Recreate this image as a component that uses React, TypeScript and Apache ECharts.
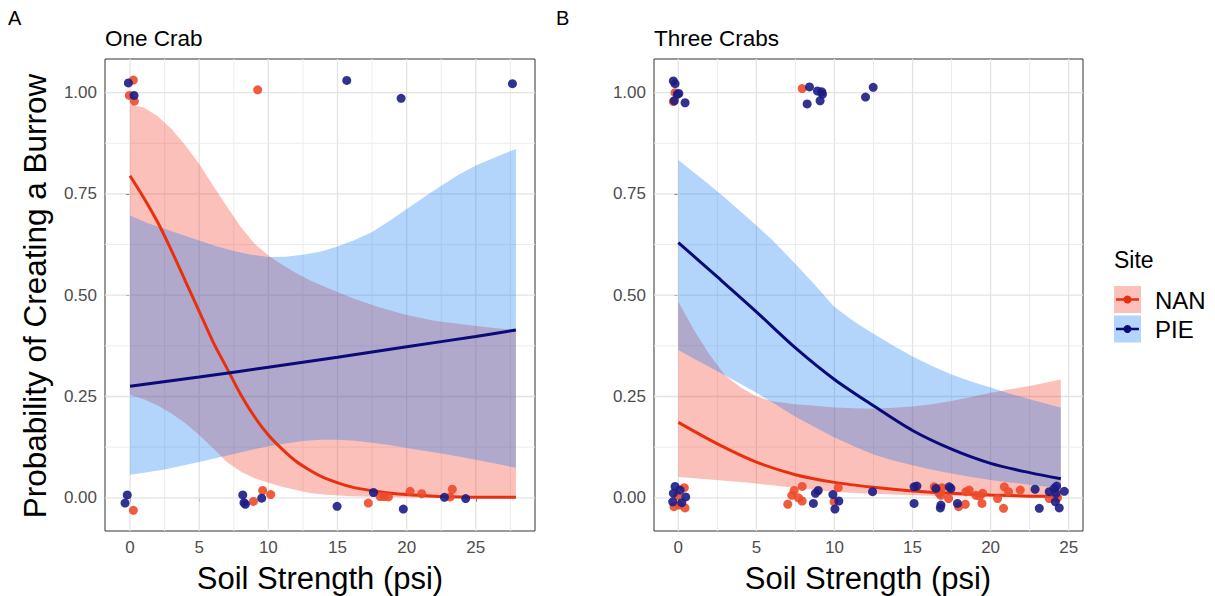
import React, { useEffect, useRef } from "react";
import * as echarts from "echarts";

const FONT = '"Liberation Sans", Arial, Helvetica, sans-serif';

// ---------- Panel A : One Crab ----------
const A_NAN_LINE_X = [0, 1, 2, 3, 4, 5, 6, 7, 8, 9, 10, 11, 12, 13, 14, 16, 18, 20, 22, 24, 26, 27.9];
const A_NAN_LINE_Y = [0.795, 0.74, 0.68, 0.61, 0.535, 0.46, 0.385, 0.32, 0.255, 0.2, 0.155, 0.12, 0.09, 0.068, 0.05, 0.027, 0.015, 0.008, 0.004, 0.002, 0.001, 0.001];
const A_NAN_RIB_X = [0, 1, 2, 3, 4, 5, 6, 7, 8, 9, 10, 11, 12, 13, 14, 16, 18, 20, 22, 24, 26, 27.9];
const A_NAN_RIB_LO = [0.254, 0.243, 0.228, 0.208, 0.184, 0.155, 0.122, 0.088, 0.065, 0.048, 0.037, 0.027, 0.019, 0.012, 0.008, 0.004, 0.002, 0.001, 0.0, 0.0, 0.0, 0.0];
const A_NAN_RIB_HI = [0.971, 0.963, 0.942, 0.91, 0.87, 0.824, 0.771, 0.719, 0.669, 0.627, 0.598, 0.575, 0.555, 0.537, 0.522, 0.494, 0.47, 0.451, 0.437, 0.428, 0.42, 0.414];

const A_PIE_LINE_X = [0, 5, 10, 15, 20, 25, 27.9];
const A_PIE_LINE_Y = [0.275, 0.298, 0.322, 0.347, 0.373, 0.398, 0.414];
const A_PIE_RIB_X = [0, 1.25, 2.5, 3.75, 5, 6.25, 7.5, 8.75, 10, 11.25, 12.5, 13.75, 15, 16.25, 17.5, 18.75, 20, 21.25, 22.5, 23.75, 25, 26.5, 27.9];
const A_PIE_RIB_LO = [0.057, 0.063, 0.07, 0.079, 0.088, 0.098, 0.108, 0.118, 0.127, 0.134, 0.14, 0.143, 0.143, 0.141, 0.136, 0.13, 0.123, 0.116, 0.109, 0.102, 0.094, 0.084, 0.074];
const A_PIE_RIB_HI = [0.697, 0.678, 0.664, 0.649, 0.635, 0.621, 0.609, 0.6, 0.594, 0.595, 0.6, 0.607, 0.62, 0.636, 0.656, 0.683, 0.713, 0.742, 0.77, 0.797, 0.82, 0.842, 0.861];

const A_NAN_PTS = [
  [0.24, 1.031], [-0.05, 0.993], [0.31, 0.979], [9.23, 1.007], [0.24, -0.031], [8.92, -0.009],
  [9.59, 0.018], [10.17, 0.008], [17.23, -0.013], [18.08, 0.003], [18.37, 0.003], [18.68, 0.002],
  [20.25, 0.016], [21.09, 0.01], [23.14, 0.002], [23.3, 0.021],
];
const A_PIE_PTS = [
  [-0.12, 1.024], [0.29, 0.993], [15.67, 1.03], [19.6, 0.986], [27.65, 1.022], [-0.2, 0.007],
  [-0.36, -0.013], [8.15, 0.007], [8.24, -0.012], [8.34, -0.016], [9.52, -0.001], [14.97, -0.021],
  [17.6, 0.013], [19.76, -0.028], [22.73, 0.001], [24.27, -0.002],
];

// ---------- Panel B : Three Crabs ----------
const B_NAN_LINE_X = [0, 2.5, 5, 7.5, 10, 12.5, 15, 17.5, 20, 22.5, 24.5];
const B_NAN_LINE_Y = [0.186, 0.133, 0.088, 0.057, 0.038, 0.026, 0.017, 0.011, 0.007, 0.004, 0.003];
const B_NAN_RIB_X = [0, 1, 2, 3, 4, 5, 6, 7.5, 8.75, 10, 11.25, 12.5, 13.75, 15, 16.25, 17.5, 18.75, 20, 21.25, 22.5, 23.5, 24.5];
const B_NAN_RIB_LO = [0.051, 0.048, 0.045, 0.042, 0.039, 0.035, 0.031, 0.024, 0.019, 0.015, 0.012, 0.01, 0.008, 0.006, 0.005, 0.004, 0.003, 0.002, 0.0015, 0.001, 0.001, 0.001];
const B_NAN_RIB_HI = [0.484, 0.414, 0.353, 0.302, 0.272, 0.25, 0.238, 0.231, 0.227, 0.223, 0.221, 0.22, 0.222, 0.225, 0.231, 0.239, 0.249, 0.259, 0.268, 0.276, 0.284, 0.292];

const B_PIE_LINE_X = [0, 2.5, 5, 7.5, 10, 12.5, 15, 17.5, 20, 22.5, 24.5];
const B_PIE_LINE_Y = [0.63, 0.545, 0.459, 0.37, 0.292, 0.227, 0.166, 0.12, 0.085, 0.062, 0.047];
const B_PIE_RIB_X = [0, 1, 2, 3, 4, 5, 6, 7.5, 8.75, 10, 11.25, 12.5, 13.75, 15, 16.25, 17.5, 18.75, 20, 21.25, 22.5, 23.5, 24.5];
const B_PIE_RIB_LO = [0.365, 0.343, 0.323, 0.302, 0.281, 0.259, 0.236, 0.2, 0.174, 0.149, 0.127, 0.107, 0.092, 0.08, 0.069, 0.06, 0.051, 0.044, 0.038, 0.032, 0.028, 0.024];
const B_PIE_RIB_HI = [0.834, 0.803, 0.772, 0.74, 0.706, 0.672, 0.637, 0.577, 0.525, 0.471, 0.435, 0.405, 0.376, 0.349, 0.325, 0.304, 0.287, 0.272, 0.257, 0.243, 0.233, 0.223];

const B_NAN_PTS = [
  [-0.21, 1.0], [-0.32, 0.978], [7.93, 1.01],
  [0.38, 0.025], [-0.06, 0.005], [-0.28, -0.022], [0.43, -0.025], [0.06, -0.018], [7.01, -0.016],
  [7.27, 0.006], [7.42, 0.018], [7.93, 0.028], [7.69, 0.0], [7.93, -0.008], [9.98, -0.01], [10.24, 0.025],
  [16.39, 0.027], [16.88, 0.025], [16.82, 0.006], [17.31, -0.002], [17.95, -0.022], [18.38, -0.016],
  [18.42, 0.015], [18.63, 0.019], [19.06, 0.006], [19.49, 0.011], [19.45, -0.014], [20.45, -0.002],
  [20.88, 0.027], [21.15, 0.015], [20.83, -0.026], [21.9, 0.019], [23.76, -0.002], [24.29, 0.0],
  [16.7, 0.011], [19.3, 0.004],
];
const B_PIE_PTS = [
  [-0.32, 1.029], [-0.21, 1.022], [-0.06, 0.996], [0.03, 0.998], [-0.26, 0.98], [0.43, 0.975],
  [8.4, 1.014], [8.25, 0.972], [8.91, 1.004], [9.19, 1.002], [9.23, 0.996], [9.08, 0.98],
  [11.99, 0.989], [12.48, 1.013],
  [-0.21, 0.028], [0.11, 0.019], [-0.32, 0.011], [0.47, 0.002], [-0.36, -0.01], [0.22, -0.012],
  [8.65, -0.014], [8.78, 0.011], [8.96, 0.018], [9.9, 0.008], [10.03, -0.028], [10.28, -0.008],
  [12.44, 0.015], [15.1, 0.027], [15.28, 0.029], [15.1, -0.014], [16.5, 0.023], [17.35, 0.027],
  [17.46, 0.023], [16.82, -0.018], [16.78, -0.025], [17.88, -0.014], [22.85, 0.021], [23.12, -0.026],
  [23.76, 0.015], [24.08, 0.023], [24.23, 0.029], [24.19, 0.011], [24.72, 0.016], [24.15, -0.01],
  [24.4, -0.025],
];

// ---------- axes ----------
const X_TICKS = [0, 5, 10, 15, 20, 25];
const Y_TICKS = [0, 0.25, 0.5, 0.75, 1];
const A_X_MAJOR = [0, 5, 10, 15, 20, 25];
const A_X_MINOR = [2.5, 7.5, 12.5, 17.5, 22.5, 27.5];
const B_X_MAJOR = [0, 5, 10, 15, 20, 25];
const B_X_MINOR = [2.5, 7.5, 12.5, 17.5, 22.5];
const Y_MAJOR = [0, 0.25, 0.5, 0.75, 1];
const Y_MINOR = [0.125, 0.375, 0.625, 0.875];

const A_XLIM = [-1.81, 29.28];
const B_XLIM = [-1.56, 25.92];
const YLIM = [-0.082, 1.083];

const NAN_LINE = "#e8300e";
const PIE_LINE = "#0a0a78";
const NAN_FILL = "#f52d1c";
const PIE_FILL = "#0273f5";
const NAN_PT = "#ee4a2a";
const PIE_PT = "#1c1c84";

function gridSeries(g: number, xMaj: number[], xMin: number[], xl: number[]) {
  const data: number[][] = [];
  xMaj.forEach((v) => data.push([v, 0, 0]));
  xMin.forEach((v) => data.push([v, 0, 1]));
  Y_MAJOR.forEach((v) => data.push([v, 1, 0]));
  Y_MINOR.forEach((v) => data.push([v, 1, 1]));
  return {
    type: "custom",
    xAxisIndex: g,
    yAxisIndex: g,
    silent: true,
    z: 1,
    data,
    renderItem: (params: any, api: any) => {
      const v = api.value(0);
      const horiz = api.value(1);
      const minor = api.value(2);
      let p1, p2;
      if (horiz) {
        p1 = api.coord([xl[0], v]);
        p2 = api.coord([xl[1], v]);
      } else {
        p1 = api.coord([v, YLIM[0]]);
        p2 = api.coord([v, YLIM[1]]);
      }
      return {
        type: "line",
        shape: { x1: p1[0], y1: p1[1], x2: p2[0], y2: p2[1] },
        style: { stroke: minor ? "#ececec" : "#e3e3e3", lineWidth: minor ? 1 : 1.3 },
      };
    },
  };
}

function ribbon(g: number, xs: number[], lo: number[], hi: number[], color: string) {
  return {
    type: "custom",
    xAxisIndex: g,
    yAxisIndex: g,
    silent: true,
    clip: true,
    z: 2,
    data: xs.map((x, i) => [x, lo[i], hi[i]]),
    renderItem: (params: any, api: any) => {
      if (params.dataIndex !== 0) return null;
      const pts: number[][] = [];
      for (let i = 0; i < xs.length; i++) pts.push(api.coord([xs[i], hi[i]]));
      for (let i = xs.length - 1; i >= 0; i--) pts.push(api.coord([xs[i], lo[i]]));
      return {
        type: "polygon",
        shape: { points: pts },
        style: { fill: color, opacity: 0.3 },
      };
    },
  };
}

function fitLine(g: number, xs: number[], ys: number[], color: string) {
  return {
    type: "line", xAxisIndex: g, yAxisIndex: g, silent: true, z: 4,
    symbol: "none", smooth: 0.3, lineStyle: { color, width: 3 },
    data: xs.map((x, i) => [x, ys[i]]),
  };
}

function points(g: number, pts: number[][], color: string, op: number) {
  return {
    type: "scatter", xAxisIndex: g, yAxisIndex: g, silent: true, z: 5,
    symbolSize: 9, itemStyle: { color, opacity: op },
    data: pts,
  };
}

function xAxis(g: number, lim: number[]) {
  return {
    type: "value", gridIndex: g, min: lim[0], max: lim[1],
    axisLine: { show: false },
    splitLine: { show: false },
    axisTick: { show: true, customValues: X_TICKS, length: 4, lineStyle: { color: "#333333", width: 1 } },
    axisLabel: { customValues: X_TICKS, fontSize: 17, color: "#4d4d4d", fontFamily: FONT, margin: 8 },
  };
}

function yAxis(g: number) {
  return {
    type: "value", gridIndex: g, min: YLIM[0], max: YLIM[1],
    axisLine: { show: false },
    splitLine: { show: false },
    axisTick: { show: true, customValues: Y_TICKS, length: 4, lineStyle: { color: "#333333", width: 1 } },
    axisLabel: {
      customValues: Y_TICKS, fontSize: 17, color: "#4d4d4d", fontFamily: FONT, margin: 8,
      formatter: (v: number) => v.toFixed(2),
    },
  };
}

function txt(text: string, x: number, y: number, size: number, align = "left", rotation = 0, color = "#000") {
  return {
    type: "text", x, y, rotation, silent: true,
    style: {
      text, fill: color, fontSize: size, fontFamily: FONT,
      textAlign: align, align, textVerticalAlign: "middle", verticalAlign: "middle",
    },
  };
}

export default function App() {
  const ref = useRef<HTMLDivElement>(null);
  useEffect(() => {
    if (!ref.current) return;
    const chart = echarts.init(ref.current, null, { renderer: "svg" });
    const option = {
      animation: false,
      backgroundColor: "#ffffff",
      grid: [
        { left: 105, top: 59, width: 430, height: 472, show: true, borderColor: "#333333", borderWidth: 1, backgroundColor: "transparent" },
        { left: 654, top: 59, width: 429, height: 472, show: true, borderColor: "#333333", borderWidth: 1, backgroundColor: "transparent" },
      ],
      xAxis: [xAxis(0, A_XLIM), xAxis(1, B_XLIM)],
      yAxis: [yAxis(0), yAxis(1)],
      series: [
        gridSeries(0, A_X_MAJOR, A_X_MINOR, A_XLIM),
        gridSeries(1, B_X_MAJOR, B_X_MINOR, B_XLIM),
        ribbon(0, A_NAN_RIB_X, A_NAN_RIB_LO, A_NAN_RIB_HI, NAN_FILL),
        ribbon(0, A_PIE_RIB_X, A_PIE_RIB_LO, A_PIE_RIB_HI, PIE_FILL),
        ribbon(1, B_NAN_RIB_X, B_NAN_RIB_LO, B_NAN_RIB_HI, NAN_FILL),
        ribbon(1, B_PIE_RIB_X, B_PIE_RIB_LO, B_PIE_RIB_HI, PIE_FILL),
        fitLine(0, A_NAN_LINE_X, A_NAN_LINE_Y, NAN_LINE),
        fitLine(0, A_PIE_LINE_X, A_PIE_LINE_Y, PIE_LINE),
        fitLine(1, B_NAN_LINE_X, B_NAN_LINE_Y, NAN_LINE),
        fitLine(1, B_PIE_LINE_X, B_PIE_LINE_Y, PIE_LINE),
        points(0, A_NAN_PTS, NAN_PT, 0.9),
        points(0, A_PIE_PTS, PIE_PT, 0.9),
        points(1, B_NAN_PTS, NAN_PT, 0.9),
        points(1, B_PIE_PTS, PIE_PT, 0.9),
      ],
      graphic: [
        txt("A", 8, 18, 20),
        txt("B", 556, 18, 20),
        txt("One Crab", 105, 38, 22.5),
        txt("Three Crabs", 654, 38, 22.5),
        txt("Probability of Creating a Burrow", 35, 296, 31.5, "center", Math.PI / 2),
        txt("Soil Strength (psi)", 320, 578, 31, "center"),
        txt("Soil Strength (psi)", 868, 578, 31, "center"),
        txt("Site", 1114, 260, 23),
        { type: "rect", silent: true, shape: { x: 1114, y: 286, width: 27, height: 27 }, style: { fill: NAN_FILL, opacity: 0.3 } },
        { type: "line", silent: true, shape: { x1: 1116, y1: 299.5, x2: 1139, y2: 299.5 }, style: { stroke: NAN_LINE, lineWidth: 2.5 } },
        { type: "circle", silent: true, shape: { cx: 1127.5, cy: 299.5, r: 4 }, style: { fill: NAN_LINE } },
        txt("NAN", 1155, 300, 24),
        { type: "rect", silent: true, shape: { x: 1114, y: 315.5, width: 27, height: 27 }, style: { fill: PIE_FILL, opacity: 0.3 } },
        { type: "line", silent: true, shape: { x1: 1116, y1: 329, x2: 1139, y2: 329 }, style: { stroke: PIE_LINE, lineWidth: 2.5 } },
        { type: "circle", silent: true, shape: { cx: 1127.5, cy: 329, r: 4 }, style: { fill: PIE_LINE } },
        txt("PIE", 1155, 329, 24),
      ],
    };
    chart.setOption(option as any);
    return () => chart.dispose();
  }, []);
  return (
    <div
      ref={ref}
      style={{ position: "fixed", left: 0, top: 0, width: 1215, height: 596, background: "#fff" }}
    />
  );
}
